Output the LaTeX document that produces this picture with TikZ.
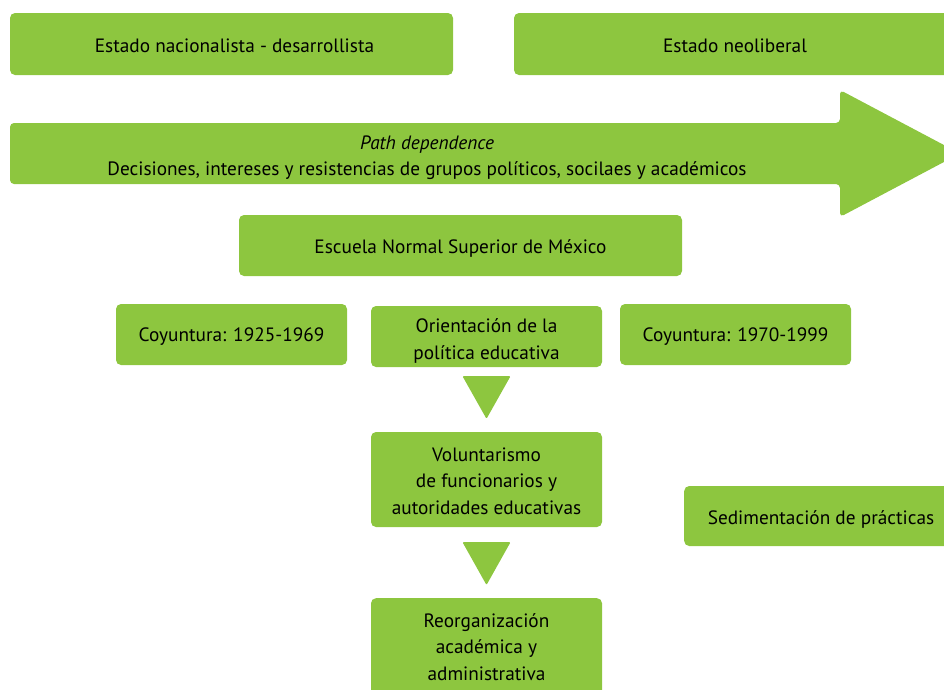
\documentclass[tikz,border=0pt]{standalone}
\usepackage{fontspec}
\setmainfont{PT Sans}
\usetikzlibrary{calc}
\definecolor{lgreen}{HTML}{8DC63F}
\tikzset{
  gfont/.style={font=\fontsize{19.3}{26.5}\selectfont, text=black, align=center},
  gbox/.style={fill=lgreen, rounded corners=5pt, inner sep=0pt, gfont},
  tri/.style={fill=lgreen, rounded corners=1pt}
}
\begin{document}
\begin{tikzpicture}[x=1pt,y=-1pt]
\useasboundingbox (0,0) rectangle (944,689);
\clip (0,0) rectangle (944,689);
% top boxes
\node[gbox, minimum width=443pt, minimum height=62pt] (nac) at (231.5,44) {};
\node[gfont] (nact) at (234.5,46) {Estado nacionalista - desarrollista};
\node[gbox, minimum width=450pt, minimum height=62pt] (neo) at (739,44) {};
\node[gfont] (neot) at (735,46) {Estado neoliberal};
% big arrow
\fill[lgreen, rounded corners=4pt] (10,123) -- (840,123) -- (840,90) -- (960,153.5) -- (840,217) -- (840,184) -- (10,184) -- cycle;
\node[gfont] (path) at (427,157.5) {\itshape Path dependence\\Decisiones, intereses y resistencias de grupos políticos, socilaes y académicos};
% Escuela
\node[gbox, minimum width=443pt, minimum height=61pt] (esc) at (460.5,245.5) {};
\node[gfont] (esct) at (460.5,248) {Escuela Normal Superior de México};
% row
\node[gbox, minimum width=231pt, minimum height=61pt] (c1) at (231.5,334.5) {};
\node[gfont] (c1t) at (231.5,337) {Coyuntura: 1925-1969};
\node[gbox, minimum width=231pt, minimum height=61pt] (ori) at (486.5,336.5) {};
\node[gfont] (orit) at (486.5,341) {Orientación de la\\política educativa};
\node[gbox, minimum width=231pt, minimum height=61pt] (c2) at (735.5,334.5) {};
\node[gfont] (c2t) at (735.5,337) {Coyuntura: 1970-1999};
% voluntarismo
\node[gbox, minimum width=231pt, minimum height=95pt] (vol) at (486.5,479.5) {};
\node[gfont] (volt) at (486.5,481) {Voluntarismo\\de funcionarios y\\autoridades educativas};
% sedimentacion
\node[gbox, minimum width=280pt, minimum height=60pt, anchor=west] (sed) at (684,516) {};
\node[gfont] (sedt) at (821,519) {Sedimentación de prácticas};
% reorganizacion
\node[gbox, minimum width=231pt, minimum height=110pt, anchor=north] (reo) at (486.5,598) {};
\node[gfont] (reot) at (486.5,647) {Reorganización\\académica y\\administrativa};
% triangles
\fill[tri] ($(ori.south)+(-24,9)$) -- ($(ori.south)+(24,9)$) -- ($(vol.north)+(0,-13)$) -- cycle;
\fill[tri] ($(vol.south)+(-24,15)$) -- ($(vol.south)+(24,15)$) -- ($(reo.north)+(0,-13)$) -- cycle;
\end{tikzpicture}
\end{document}
